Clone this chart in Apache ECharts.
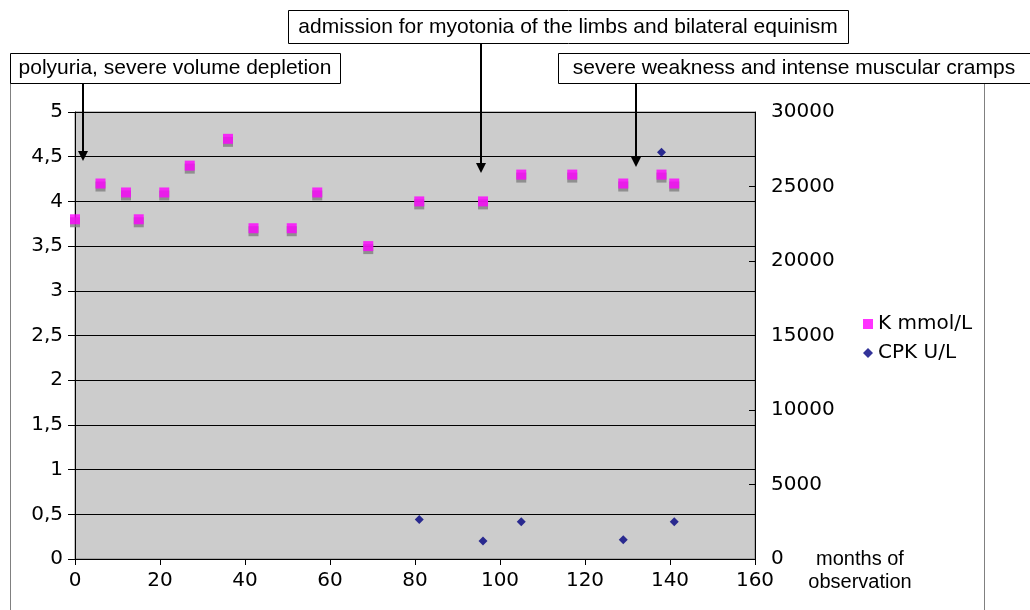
<!DOCTYPE html>
<html>
<head>
<meta charset="utf-8">
<script src="https://cdn.jsdelivr.net/npm/echarts@6/dist/echarts.min.js"></script>
<style>html,body{margin:0;padding:0;background:#fff}#c{width:1030px;height:610px}</style>
</head>
<body>
<div id="c"></div>
<script>
// Months of observation and potassium (K mmol/L)
var kMonths = [0, 6, 12, 15, 21, 27, 36, 42, 51, 57, 69, 81, 96, 105, 117, 129, 138, 141];
var kValues = [3.8, 4.2, 4.1, 3.8, 4.1, 4.4, 4.7, 3.7, 3.7, 4.1, 3.5, 4.0, 4.0, 4.3, 4.3, 4.2, 4.3, 4.2];
// CPK U/L
var cpkMonths = [81, 96, 105, 129, 138, 141];
var cpkValues = [2650, 1200, 2500, 1300, 27300, 2500];
// Annotations
var notes = [
  {text: 'admission for myotonia of the limbs and bilateral equinism', month: 96},
  {text: 'polyuria, severe volume depletion', month: 2},
  {text: 'severe weakness and intense muscular cramps', month: 132}
];
var xAxisName = 'months of\nobservation';

var chart = echarts.init(document.getElementById('c'));
var axisFont = {fontFamily: 'DejaVu Sans', fontSize: 20, color: '#000'};
var boxFont = 'Liberation Sans';

function pair(xs, ys) { return xs.map(function (x, i) { return [x, ys[i]]; }); }

var option = {
  animation: false,
  backgroundColor: '#fff',
  grid: {left: 75, right: 275, top: 112, bottom: 51, show: true, backgroundColor: '#cccccc', borderColor: '#808080', borderWidth: 1},
  legend: {
    orient: 'vertical', left: 858, top: 309, itemWidth: 10, itemHeight: 10, itemGap: 9,
    textStyle: {fontFamily: 'DejaVu Sans', fontSize: 20, color: '#000'},
    data: [{name: 'K mmol/L', icon: 'rect'}, {name: 'CPK U/L', icon: 'diamond'}]
  },
  xAxis: {
    type: 'value', min: 0, max: 160, interval: 20,
    axisLine: {show: true, lineStyle: {color: '#000'}},
    axisTick: {show: true, length: 6, lineStyle: {color: '#000'}},
    axisLabel: Object.assign({margin: 12}, axisFont),
    splitLine: {show: false}
  },
  yAxis: [{
    type: 'value', min: 0, max: 5, interval: 0.5, position: 'left',
    axisLine: {show: true, lineStyle: {color: '#000'}},
    axisTick: {show: true, length: 7, lineStyle: {color: '#000'}},
    axisLabel: Object.assign({margin: 12, formatter: function (v) { return String(v).replace('.', ','); }}, axisFont),
    splitLine: {show: true, lineStyle: {color: '#000', width: 1}}
  }, {
    type: 'value', min: 0, max: 30000, interval: 5000, position: 'right',
    axisLine: {show: true, lineStyle: {color: '#000'}},
    axisTick: {show: true, length: 6, inside: true, lineStyle: {color: '#000'}},
    axisLabel: Object.assign({margin: 16, formatter: function (v) { return String(v); }}, axisFont),
    splitLine: {show: false}
  }],
  series: [{
    name: 'K mmol/L', type: 'scatter', yAxisIndex: 0, symbol: 'rect', symbolSize: 10,
    itemStyle: {color: '#ff00ff', shadowColor: '#808080', shadowOffsetY: 3, shadowOffsetX: 0, shadowBlur: 0},
    data: pair(kMonths, kValues), z: 3
  }, {
    name: 'CPK U/L', type: 'scatter', yAxisIndex: 1, symbol: 'diamond', symbolSize: 9,
    itemStyle: {color: '#000080'},
    data: pair(cpkMonths, cpkValues), z: 4
  }],
  graphic: [
    {type: 'line', shape: {x1: 10.5, y1: 83, x2: 10.5, y2: 620}, style: {stroke: '#808080', lineWidth: 1}, z: 1},
    {type: 'line', shape: {x1: 984.5, y1: 83, x2: 984.5, y2: 620}, style: {stroke: '#808080', lineWidth: 1}, z: 1},
    {type: 'rect', shape: {x: 288.5, y: 10.5, width: 560, height: 33}, style: {fill: '#fff', stroke: '#000', lineWidth: 1}, z: 10},
    {type: 'text', x: 568, y: 27, style: {text: notes[0].text, font: '21px ' + boxFont, fill: '#000', textAlign: 'center', textVerticalAlign: 'middle'}, z: 11},
    {type: 'rect', shape: {x: 10.5, y: 53.5, width: 330, height: 30}, style: {fill: '#fff', stroke: '#000', lineWidth: 1}, z: 10},
    {type: 'text', x: 175, y: 68.5, style: {text: notes[1].text, font: '21px ' + boxFont, fill: '#000', textAlign: 'center', textVerticalAlign: 'middle'}, z: 11},
    {type: 'rect', shape: {x: 558.5, y: 53.5, width: 480, height: 30}, style: {fill: '#fff', stroke: '#000', lineWidth: 1}, z: 10},
    {type: 'text', x: 794, y: 68.5, style: {text: notes[2].text, font: '21px ' + boxFont, fill: '#000', textAlign: 'center', textVerticalAlign: 'middle'}, z: 11},
    // arrows
    {type: 'line', shape: {x1: 83, y1: 84, x2: 83, y2: 152}, style: {stroke: '#000', lineWidth: 2}, z: 12},
    {type: 'polygon', shape: {points: [[78, 151], [88, 151], [83, 161]]}, style: {fill: '#000'}, z: 12},
    {type: 'line', shape: {x1: 481, y1: 44, x2: 481, y2: 164}, style: {stroke: '#000', lineWidth: 2}, z: 12},
    {type: 'polygon', shape: {points: [[476, 163], [486, 163], [481, 173]]}, style: {fill: '#000'}, z: 12},
    {type: 'line', shape: {x1: 636, y1: 84, x2: 636, y2: 158}, style: {stroke: '#000', lineWidth: 2}, z: 12},
    {type: 'polygon', shape: {points: [[631, 157], [641, 157], [636, 167]]}, style: {fill: '#000'}, z: 12},
    {type: 'text', x: 860, y: 571, style: {text: xAxisName, font: '20px ' + boxFont, fill: '#000', textAlign: 'center', textVerticalAlign: 'middle', lineHeight: 23}, z: 11}
  ]
};
chart.setOption(option);
</script>
</body>
</html>
